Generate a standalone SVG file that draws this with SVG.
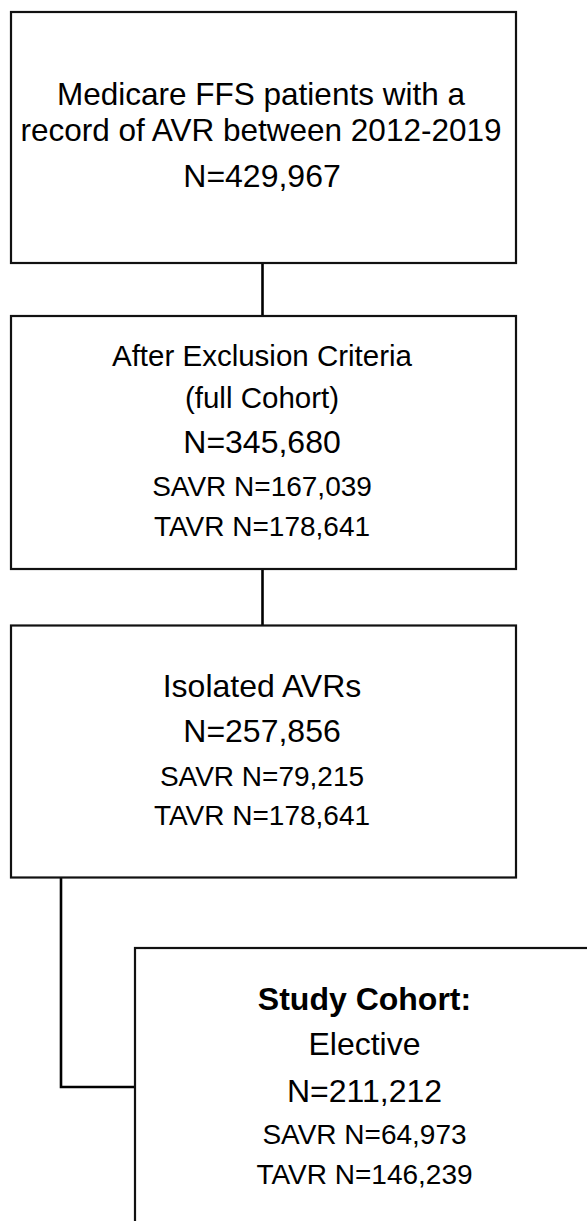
<svg xmlns="http://www.w3.org/2000/svg" width="587" height="1221" viewBox="0 0 587 1221">
<style>
.box{fill:#fff;stroke:#111;stroke-width:2.2}
.con{fill:none;stroke:#000;stroke-width:2.6}
text{font-family:"Liberation Sans",Arial,sans-serif;fill:#000;text-anchor:middle}
.l{font-size:32px}
.t{font-size:31.5px}
.m{font-size:29.5px}
.s{font-size:28px}
.b{font-size:32px;font-weight:bold}
</style>
<rect width="587" height="1221" fill="#fff"/>
<g id="connectors">
<line class="con" x1="262.5" y1="263" x2="262.5" y2="316"/>
<line class="con" x1="262.5" y1="569" x2="262.5" y2="625.5"/>
<path class="con" d="M61,878 V1087 H135"/>
</g>
<g id="node1">
<rect class="box" x="11" y="12" width="505" height="251"/>
<text class="t" x="261" y="105">Medicare FFS patients with a</text>
<text class="t" x="261" y="140.5">record of AVR between 2012-2019</text>
<text class="l" x="262" y="187">N=429,967</text>
</g>
<g id="node2">
<rect class="box" x="11" y="316" width="505" height="253"/>
<text class="m" x="262" y="366">After Exclusion Criteria</text>
<text class="m" x="262" y="408">(full Cohort)</text>
<text class="l" x="262" y="453">N=345,680</text>
<text class="s" x="262" y="496">SAVR N=167,039</text>
<text class="s" x="262" y="536">TAVR N=178,641</text>
</g>
<g id="node3">
<rect class="box" x="11" y="625.5" width="505" height="252"/>
<text class="l" x="262" y="697">Isolated AVRs</text>
<text class="l" x="262" y="742">N=257,856</text>
<text class="s" x="262" y="786">SAVR N=79,215</text>
<text class="s" x="262" y="825">TAVR N=178,641</text>
</g>
<g id="node4">
<rect class="box" x="135" y="948" width="460" height="300"/>
<text class="b" x="364.5" y="1010">Study Cohort:</text>
<text class="l" x="364.5" y="1055">Elective</text>
<text class="l" x="364.5" y="1102">N=211,212</text>
<text class="s" x="364.5" y="1144">SAVR N=64,973</text>
<text class="s" x="364.5" y="1184">TAVR N=146,239</text>
</g>
</svg>
